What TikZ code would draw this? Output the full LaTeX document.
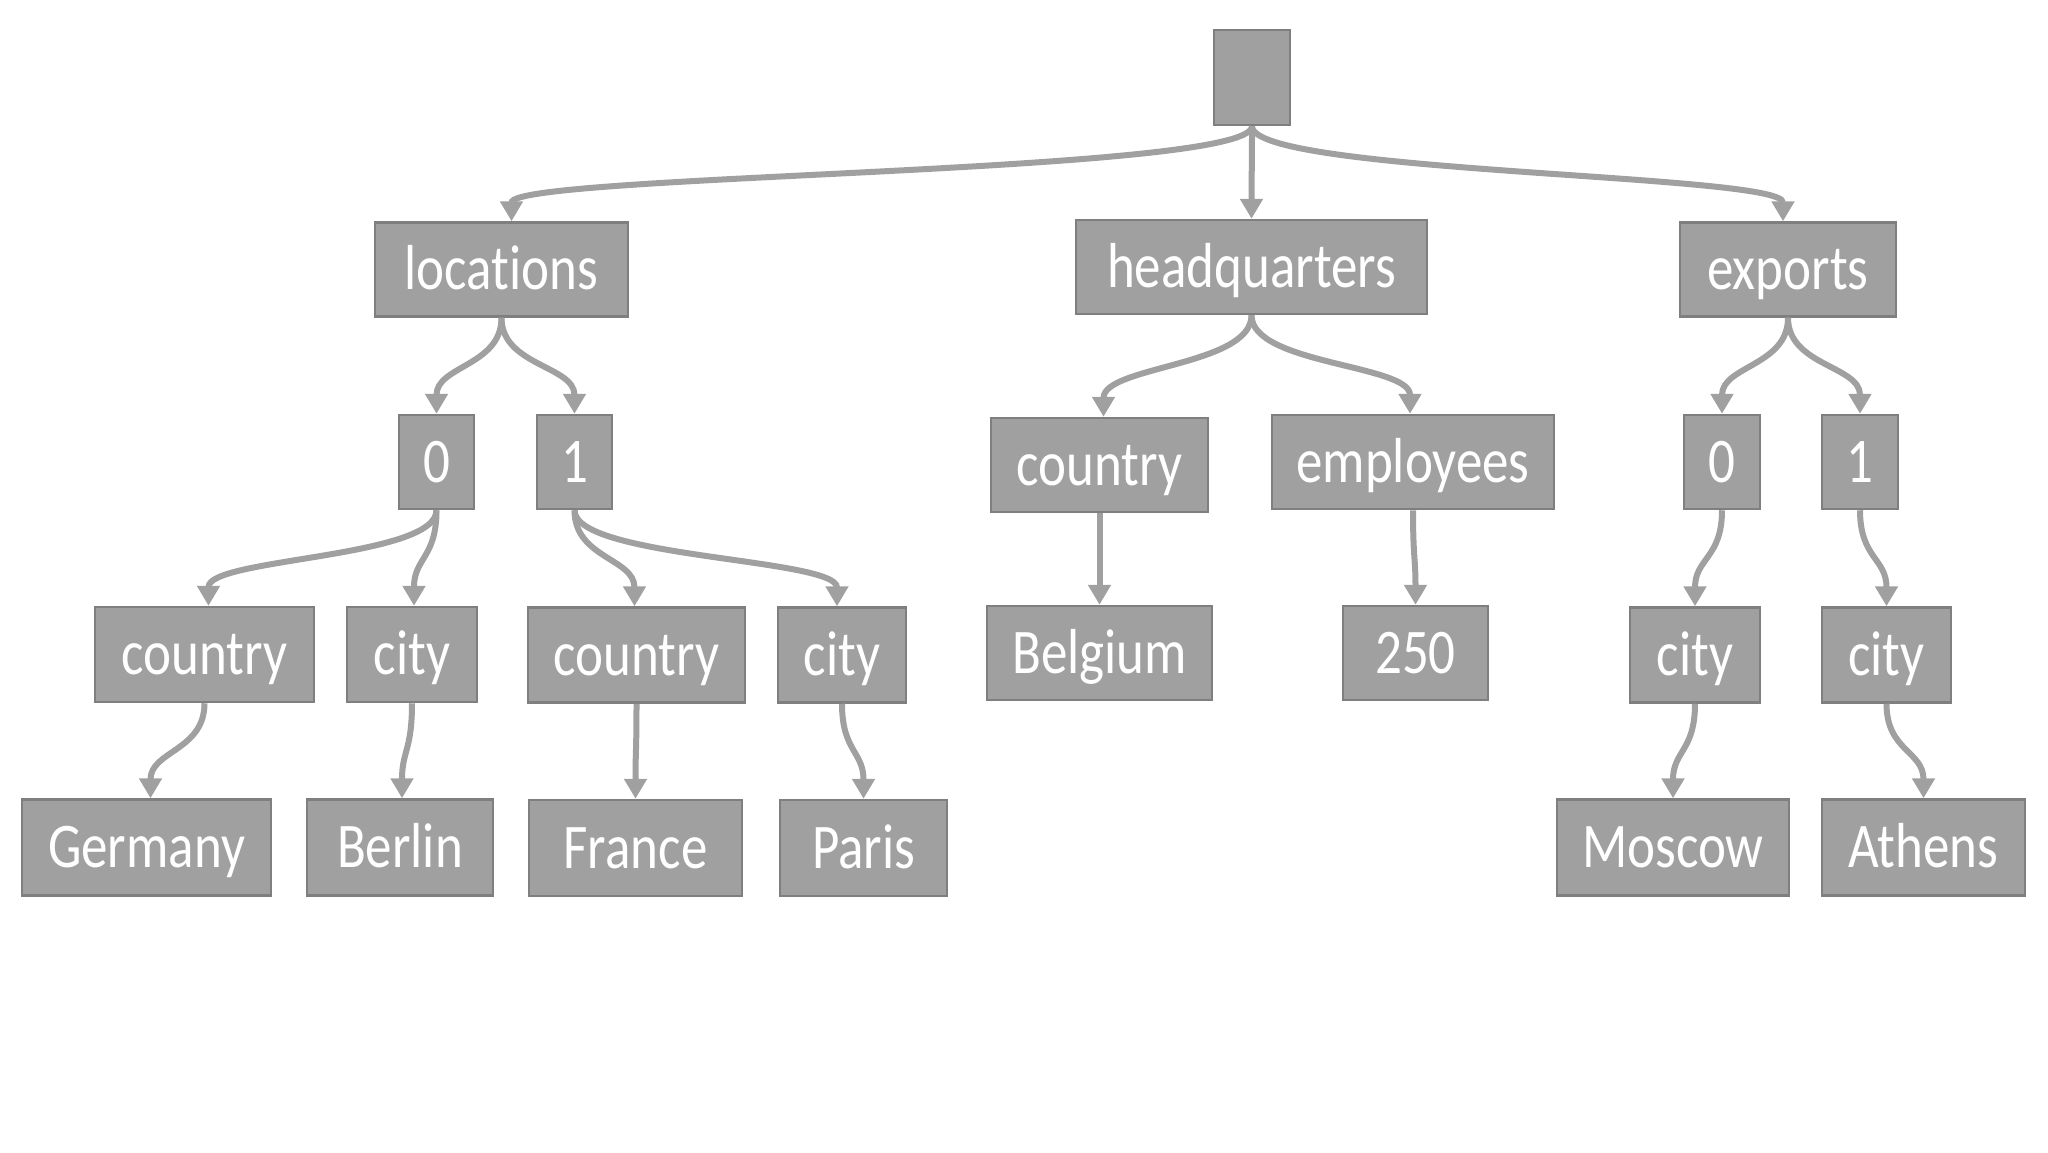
\documentclass[tikz,border=0pt]{standalone}
\usepackage{fontspec}
\setmainfont{Carlito}[Ligatures={NoCommon,NoRequired,NoContextual}]
\usetikzlibrary{arrows.meta,calc}
\definecolor{boxfill}{HTML}{A0A0A0}
\definecolor{boxline}{HTML}{7F7F7F}
\definecolor{linkcol}{HTML}{A0A0A0}
\newcommand{\tallt}[1]{\scalebox{1}[1.2]{#1}}
\begin{document}
\begin{tikzpicture}[x=1pt,y=-1pt,
  box/.style={draw=boxline, line width=2.5pt, fill=boxfill, text=white, inner sep=0pt,
    minimum height=94pt, text height=55pt, text depth=15pt,
    font=\fontsize{53}{60}\selectfont},
  link/.style={draw=linkcol, line width=6pt, -{Triangle[length=20pt,width=22pt]},
    to path={let \p1=(\tikztostart), \p2=(\tikztotarget) in
      (\tikztostart) .. controls (\x1,{0.5*(\y1+\y2)}) and (\x2,{0.5*(\y1+\y2)}) .. (\tikztotarget) \tikztonodes}}]
\useasboundingbox[fill=white] (0,0) rectangle (2048,1152);
% level 0
\node[box, minimum width=76pt, minimum height=95pt] (root) at (1252,77.5) {};
% level 1
\node[box, minimum width=253pt] (loc) at (501.5,269.5) {\tallt{locations}};
\node[box, minimum width=351pt] (hq) at (1251.5,267) {\tallt{headquarters}};
\node[box, minimum width=216pt] (exp) at (1788,269.5) {\tallt{exports}};
% level 2
\node[box, minimum width=75pt] (l0) at (436.5,462) {\tallt{0}};
\node[box, minimum width=75pt] (l1) at (574.5,462) {\tallt{1}};
\node[box, minimum width=217pt] (hqc) at (1099.5,465) {\tallt{country}};
\node[box, minimum width=282pt] (emp) at (1413,462) {\tallt{employees}};
\node[box, minimum width=76pt] (e0) at (1722,462) {\tallt{0}};
\node[box, minimum width=76pt] (e1) at (1860,462) {\tallt{1}};
% level 3
\node[box, minimum width=219pt, minimum height=95pt] (c0) at (204.5,654.5) {\tallt{country}};
\node[box, minimum width=130pt, minimum height=95pt] (ci0) at (412,654.5) {\tallt{city}};
\node[box, minimum width=217pt, minimum height=95pt] (c1) at (636.5,655) {\tallt{country}};
\node[box, minimum width=128pt, minimum height=95pt] (ci1) at (842,655) {\tallt{city}};
\node[box, minimum width=225pt] (bel) at (1099.5,653) {\tallt{Belgium}};
\node[box, minimum width=145pt] (n250) at (1415.5,653) {\tallt{250}};
\node[box, minimum width=130pt, minimum height=95pt] (eci0) at (1695,655) {\tallt{city}};
\node[box, minimum width=129pt, minimum height=95pt] (eci1) at (1886.5,655) {\tallt{city}};
% level 4
\node[box, minimum width=249pt, minimum height=96pt] (ger) at (146.5,847.5) {\tallt{Germany}};
\node[box, minimum width=186pt, minimum height=96pt] (ber) at (400,847.5) {\tallt{Berlin}};
\node[box, minimum width=213pt, minimum height=96pt] (fra) at (635.5,848) {\tallt{France}};
\node[box, minimum width=167pt, minimum height=96pt] (par) at (863.5,848) {\tallt{Paris}};
\node[box, minimum width=232pt, minimum height=96pt] (mos) at (1673,847.5) {\tallt{Moscow}};
\node[box, minimum width=203pt, minimum height=96pt] (ath) at (1923.5,847.5) {\tallt{Athens}};
% links
\draw[link] (root.south) to ([xshift=10pt]loc.north);
\draw[link] (root.south) to (hq.north);
\draw[link] (root.south) to ([xshift=-5pt]exp.north);
\draw[link] (loc.south) to (l0.north);
\draw[link] (loc.south) to (l1.north);
\draw[link] (hq.south) to ([xshift=4pt]hqc.north);
\draw[link] (hq.south) to ([xshift=-3pt]emp.north);
\draw[link] (exp.south) to (e0.north);
\draw[link] (exp.south) to (e1.north);
\draw[link] (l0.south) to ([xshift=4pt]c0.north);
\draw[link] (l0.south) to ([xshift=2pt]ci0.north);
\draw[link] (l1.south) to ([xshift=-2pt]c1.north);
\draw[link] (l1.south) to ([xshift=-5pt]ci1.north);
\draw[link] (c0.south) to ([xshift=4pt]ger.north);
\draw[link] (ci0.south) to ([xshift=2pt]ber.north);
\draw[link] (c1.south) to (fra.north);
\draw[link] (ci1.south) to (par.north);
\draw[link] (hqc.south) to (bel.north);
\draw[link] (emp.south) to (n250.north);
\draw[link] (e0.south) to (eci0.north);
\draw[link] (e1.south) to (eci1.north);
\draw[link] (eci0.south) to (mos.north);
\draw[link] (eci1.south) to (ath.north);
\end{tikzpicture}
\end{document}
